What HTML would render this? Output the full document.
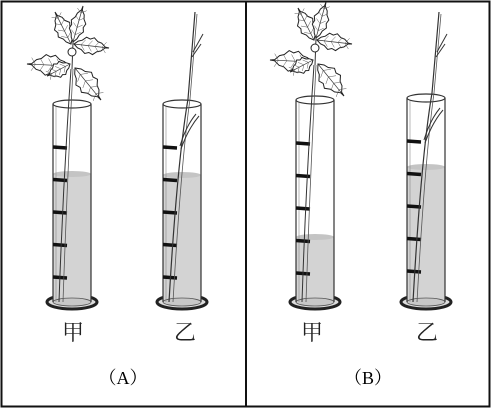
<!DOCTYPE html>
<html><head><meta charset="utf-8"><style>
html,body{margin:0;padding:0;background:#fff;}
svg{display:block;}
text{font-family:"Liberation Serif","Noto Serif CJK SC",serif;}
</style></head><body>
<svg id="s" width="492" height="409" viewBox="0 0 492 409">
<rect x="1.5" y="1.5" width="488" height="405" fill="#fff" stroke="#111" stroke-width="2"/>
<line x1="246" y1="1" x2="246" y2="407" stroke="#111" stroke-width="2"/>
<g id="tubes"></g>
<text x="73" y="340" font-size="22" text-anchor="middle" fill="#222">甲</text>
<text x="185" y="340" font-size="22" text-anchor="middle" fill="#222">乙</text>
<text x="123" y="384" font-size="18" text-anchor="middle">（A）</text>
<text x="312" y="340" font-size="22" text-anchor="middle" fill="#222">甲</text>
<text x="427" y="340" font-size="22" text-anchor="middle" fill="#222">乙</text>
<text x="368" y="384" font-size="18" text-anchor="middle">（B）</text>
</svg>
<script>
const NS='http://www.w3.org/2000/svg';
const tubeX=[53,163,296,407];
const tubeTop=[104,104,100,98];
const waterTop=[174,175,237,167];
const leafy=[true,false,true,false];
const names=['tube-a-jia','tube-a-yi','tube-b-jia','tube-b-yi'];
const g=document.getElementById('tubes');
function mk(tag,attrs,parent){const e=document.createElementNS(NS,tag);for(const k in attrs)e.setAttribute(k,attrs[k]);parent.appendChild(e);return e;}
function leaf(p,x0,y0,x1,y1,wd){
  const dx=x1-x0,dy=y1-y0,L=Math.hypot(dx,dy),ux=dx/L,uy=dy/L,nx=-uy,ny=ux;
  const n=9;let a=[],b=[];
  for(let k=0;k<=n;k++){const t=k/n;const w=wd*Math.sin(Math.PI*Math.min(1,t*1.1))*(k%2?1:0.75);
    const px=x0+dx*t,py=y0+dy*t;a.push([px+nx*w,py+ny*w]);b.push([px-nx*w,py-ny*w]);}
  const pts=a.concat(b.reverse()).map(q=>q[0].toFixed(1)+','+q[1].toFixed(1)).join(' ');
  mk('polygon',{points:pts,fill:'#fff',stroke:'#222','stroke-width':1},p);
  mk('line',{x1:x0,y1:y0,x2:x0+dx*0.9,y2:y0+dy*0.9,stroke:'#333','stroke-width':0.7},p);
  for(let k=1;k<5;k++){const t=k/5,px=x0+dx*t,py=y0+dy*t;
    mk('line',{x1:px,y1:py,x2:px+nx*wd*0.6+ux*4,y2:py+ny*wd*0.6+uy*4,stroke:'#555','stroke-width':0.5},p);
    mk('line',{x1:px,y1:py,x2:px-nx*wd*0.6+ux*4,y2:py-ny*wd*0.6+uy*4,stroke:'#555','stroke-width':0.5},p);}
}
tubeX.forEach((x,i)=>{
  const w=38, top=tubeTop[i], bot=302, cx=x+w/2;
  const t=mk('g',{},g);
  
  
  mk('ellipse',{cx:cx,cy:bot,rx:w/2+6,ry:7,fill:'#ddd',stroke:'#222','stroke-width':3},t);
  mk('rect',{x:x,y:waterTop[i],width:w,height:bot-waterTop[i],fill:'#d3d3d3'},t);
  mk('ellipse',{cx:cx,cy:waterTop[i],rx:w/2,ry:3,fill:'#c4c4c4'},t);
  mk('ellipse',{cx:cx,cy:bot,rx:w/2,ry:4,fill:'#c8c8c8',stroke:'#555','stroke-width':0.8},t);
  mk('line',{x1:x,y1:top,x2:x,y2:bot,stroke:'#333','stroke-width':1.2},t);
  mk('line',{x1:x+w,y1:top,x2:x+w,y2:bot,stroke:'#333','stroke-width':1.2},t);
  mk('line',{x1:x+3,y1:top+3,x2:x+3,y2:bot,stroke:'#888','stroke-width':0.6},t);
  mk('ellipse',{cx:cx,cy:top,rx:w/2,ry:4,fill:'none',stroke:'#333','stroke-width':1.2},t);
  for(let k=0;k<5;k++){
    const y=top+43+k*32.5;
    mk('line',{x1:x,y1:y,x2:x+14,y2:y+1,stroke:'#111','stroke-width':3.5},t);
  }
  if(leafy[i]){
    const ax=cx-1, ay=top;
    mk('path',{d:`M${x+6} ${bot} Q${x+10} ${top+80} ${ax} ${ay-35}`,fill:'none',stroke:'#333','stroke-width':1},t);
    mk('path',{d:`M${x+10} ${bot} Q${x+14} ${top+80} ${ax+2} ${ay-35}`,fill:'none',stroke:'#555','stroke-width':0.8},t);
    mk('path',{d:`M${ax+1} ${ay-35} L${ax+2} ${ay-62}`,fill:'none',stroke:'#333','stroke-width':1},t);
    leaf(t,ax-2,ay-38,ax-44,ay-40,11);
    leaf(t,ax+4,ay-36,ax+30,ay-4,11);
    leaf(t,ax,ay-60,ax-16,ay-92,9);
    leaf(t,ax+2,ay-62,ax+12,ay-98,8);
    leaf(t,ax+3,ay-60,ax+38,ay-56,9);
    leaf(t,ax-1,ay-40,ax-24,ay-28,8);
    mk('circle',{cx:ax+1,cy:ay-52,r:4,fill:'#fff',stroke:'#222','stroke-width':1},t);
  } else {
    const tx=cx+13, ty=12;
    mk('path',{d:`M${x+6} ${bot} Q${x+14} ${top+60} ${cx+6} ${top-5} L${tx} ${ty}`,fill:'none',stroke:'#333','stroke-width':1.2},t);
    mk('path',{d:`M${x+10} ${bot} Q${x+18} ${top+60} ${cx+8} ${top-5} L${tx+2} ${ty+2}`,fill:'none',stroke:'#555','stroke-width':0.8},t);
    mk('path',{d:`M${tx-2} ${ty+40} L${tx+8} ${ty+22}`,stroke:'#333','stroke-width':1,fill:'none'},t);
    mk('path',{d:`M${tx-3} ${ty+45} L${tx+6} ${ty+32}`,stroke:'#333','stroke-width':1,fill:'none'},t);
    mk('path',{d:`M${x+18} ${top+45} Q${x+25} ${top+25} ${x+36} ${top+12}`,stroke:'#333','stroke-width':1,fill:'none'},t);
    mk('path',{d:`M${x+17} ${top+42} Q${x+23} ${top+22} ${x+33} ${top+10}`,stroke:'#333','stroke-width':1,fill:'none'},t);
  }
});
</script>
</body></html>
